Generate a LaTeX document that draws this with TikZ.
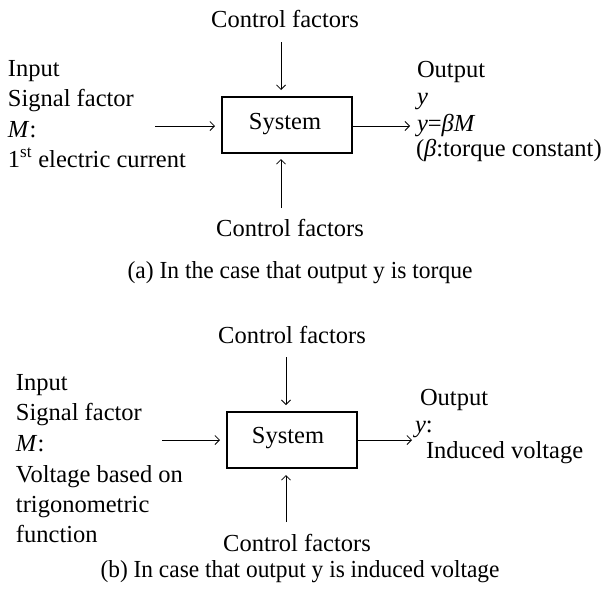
\documentclass[tikz,border=0pt]{standalone}
\usepackage{fontspec}
\usepackage{graphicx}
\setmainfont{Liberation Serif}
\usetikzlibrary{arrows.meta}
\begin{document}
\begin{tikzpicture}[x=1pt,y=-1pt,
  every node/.style={inner sep=0pt,outer sep=0pt,font=\fontsize{24.5}{30}\selectfont},
  lbl/.style={anchor=base west},
  ctr/.style={anchor=base},
  sysbox/.style={draw,line width=2pt,minimum width=130pt,minimum height=56pt},
  arr/.style={line width=0.8pt,-{Straight Barb[length=4.5pt,width=9pt]}},
  captext/.style={anchor=base}]
\useasboundingbox[fill=white] (0,0) rectangle (607,603);
% ---------- panel (a) ----------
\node[sysbox] (boxA) at (287,125) {};
\node[ctr] (sysA) at (285,129) {System};
\node[ctr] (cfTopA) at (285,27) {Control factors};
\node[ctr] (cfBotA) at (290,236) {Control factors};
\node[lbl] (inA1) at (8,76) {Input};
\node[lbl] (inA2) at (8,106) {Signal factor};
\node[lbl] (inA3) at (8,137) {\textit{M}:};
\node[lbl] (inA4) at (8,167) {1\textsuperscript{st} electric current};
\node[lbl] (outA1) at (417,77) {Output};
\node[lbl] (outA2) at (417,104) {\textit{y}};
\node[lbl] (outA3) at (417,131) {\textit{y}=\textit{βM}};
\node[lbl] (outA4) at (416,156) {(\textit{β}:torque constant)};
\node[captext] (capA) at (300,278) {\scalebox{0.96}[1]{(a) In the case that output y is torque}};
\coordinate (inAs) at (155,126);
\coordinate (outAe) at (410,126);
\coordinate (dnAs) at (281,42);
\coordinate (upAs) at (281,208);
\draw[arr,shorten >=7pt] (inAs) -- (inAs -| boxA.west);
\draw[arr] (boxA.east |- outAe) -- (outAe);
\draw[arr,shorten >=7pt] (dnAs) -- (dnAs |- boxA.north);
\draw[arr,shorten >=6pt] (upAs) -- (upAs |- boxA.south);
% ---------- panel (b) ----------
\node[sysbox] (boxB) at (292,440) {};
\node[ctr] (sysB) at (288,443) {System};
\node[ctr] (cfTopB) at (292,343) {Control factors};
\node[ctr] (cfBotB) at (297,551) {Control factors};
\node[lbl] (inB1) at (16,390) {Input};
\node[lbl] (inB2) at (16,420) {Signal factor};
\node[lbl] (inB3) at (16,451) {\textit{M}:};
\node[lbl] (inB4) at (16,482) {Voltage based on};
\node[lbl] (inB5) at (16,512) {trigonometric};
\node[lbl] (inB6) at (16,542) {function};
\node[lbl] (outB1) at (420,405) {Output};
\node[lbl] (outB2) at (415,432) {\textit{y}:};
\node[lbl] (outB3) at (426,458) {Induced voltage};
\node[captext] (capB) at (300,577) {\scalebox{0.955}[1]{(b) In case that output y is induced voltage}};
\coordinate (inBs) at (162,440);
\coordinate (outBe) at (412,440);
\coordinate (dnBs) at (286,357);
\coordinate (upBs) at (286,522);
\draw[arr,shorten >=7pt] (inBs) -- (boxB.west);
\draw[arr] (boxB.east) -- (outBe);
\draw[arr,shorten >=7pt] (dnBs) -- (dnBs |- boxB.north);
\draw[arr,shorten >=7pt] (upBs) -- (upBs |- boxB.south);
\end{tikzpicture}
\end{document}
